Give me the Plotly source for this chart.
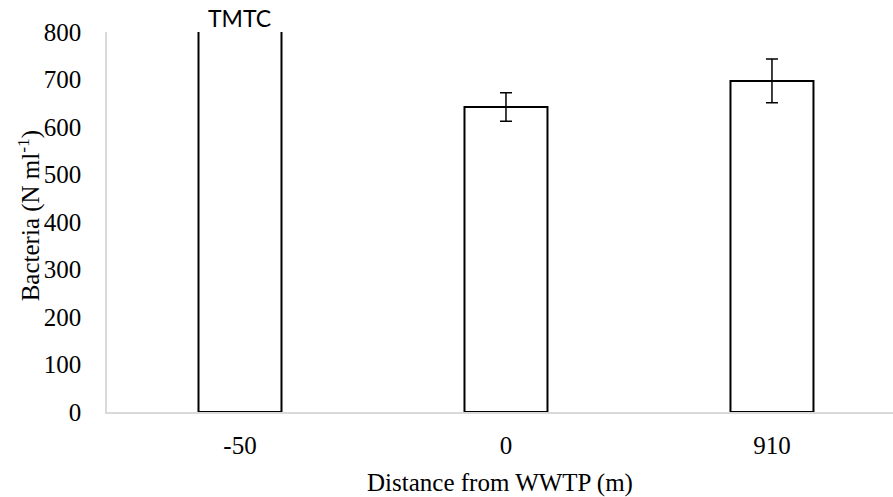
import plotly.graph_objects as go

# Sampling sites (distance from the treatment plant outfall) and bacterial counts
distances = ["-50", "0", "910"]
bacteria = [900, 642, 697]          # upstream site is beyond the countable range (drawn past the axis top)
bacteria_err = [0, 30, 46]
site_notes = ["TMTC", "", ""]

serif = "Liberation Serif, Times New Roman, serif"
fsize = 25

fig = go.Figure()
fig.add_trace(go.Bar(
    x=distances,
    y=bacteria,
    width=0.312,
    marker=dict(color="white", line=dict(color="black", width=2)),
    error_y=dict(type="data", array=bacteria_err, visible=True,
                 color="black", thickness=1.5, width=6),
    showlegend=False,
))

# Note above a site whose count could not be resolved
for i, note in enumerate(site_notes):
    if note:
        fig.add_annotation(x=i, y=800, xref="x", yref="y", text=note,
                           showarrow=False, yanchor="bottom", yshift=-2,
                           font=dict(family="Lato, Liberation Sans, sans-serif",
                                     size=23, color="black"))

# Vertical axis title, placed beside the tick labels
fig.add_annotation(
    text="Bacteria (N ml<sup>-1</sup>)", textangle=-90,
    xref="paper", yref="paper", x=0, y=0.515,
    xanchor="center", yanchor="middle", xshift=-78,
    showarrow=False, font=dict(family=serif, size=fsize, color="black"),
)

fig.update_layout(
    width=893, height=497,
    margin=dict(l=107, r=0, t=32, b=85),
    paper_bgcolor="white", plot_bgcolor="white",
    font=dict(family=serif, size=fsize, color="black"),
    xaxis=dict(
        type="category", range=[-0.5, 2.455],
        showline=True, linecolor="#d9d9d9", linewidth=1.5,
        showgrid=False, ticks="", ticklabelstandoff=10,
        title=dict(text="Distance from WWTP (m)", standoff=20,
                   font=dict(family=serif, size=fsize)),
        tickfont=dict(family=serif, size=fsize),
    ),
    yaxis=dict(
        range=[0, 800], dtick=100,
        showline=True, linecolor="#d9d9d9", linewidth=1.5,
        showgrid=False, zeroline=False, ticks="", ticklabelstandoff=19,
        tickfont=dict(family=serif, size=fsize),
    ),
)

fig.write_html("out.html")
